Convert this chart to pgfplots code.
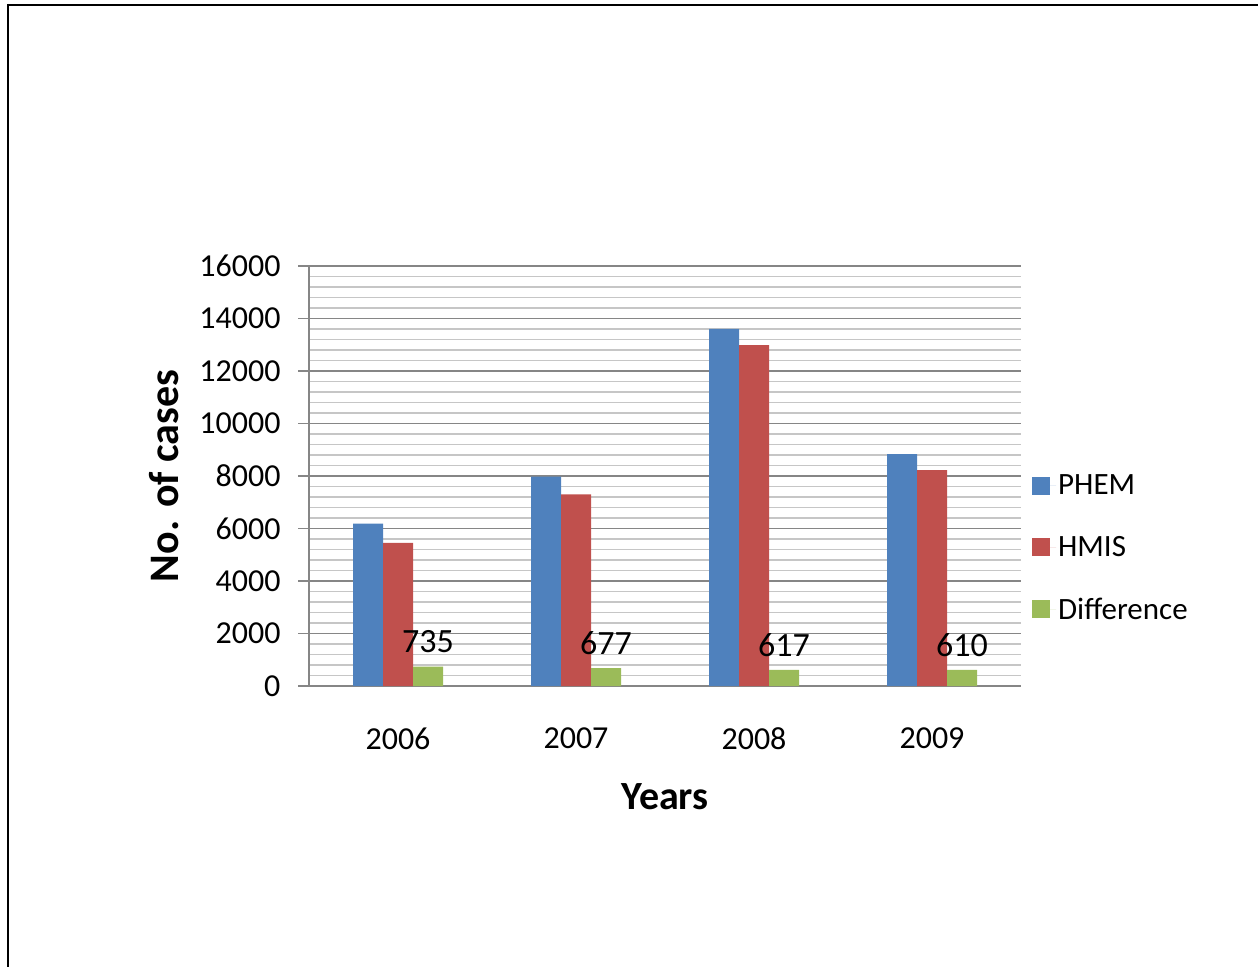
\documentclass[border=0pt]{standalone}
\usepackage{pgfplots}
\pgfplotsset{compat=1.18}
\usepackage{fontspec}
\setmainfont{Carlito}
\definecolor{cblue}{HTML}{4F81BD}
\definecolor{cred}{HTML}{C0504D}
\definecolor{cgreen}{HTML}{9BBB59}
\definecolor{majg}{HTML}{868686}
\definecolor{ming}{HTML}{C6C6C6}
\begin{document}
\begin{tikzpicture}[x=1pt,y=1pt]
\path[use as bounding box] (0,0) rectangle (1258,967);
\draw[line width=2.5pt] (7.5,962) -- (1258,962);
\draw[line width=2pt] (7.5,963) -- (7.5,0);
\begin{axis}[
  at={(309pt,281pt)}, anchor=south west,
  scale only axis, width=712pt, height=420pt,
  ybar=0pt, bar width=30pt,
  xmin=-0.5, xmax=3.5, ymin=0, ymax=16000,
  xtick={0,1,2,3}, xticklabels={2006,2007,2008,2009},
  ytick={0,2000,...,16000},
  minor y tick num=4,
  axis x line=bottom, axis y line=left,
  axis line style={majg, line width=2pt, -},
  x axis line style={-}, y axis line style={-},
  tick align=outside,
  major tick length=11pt, minor tick length=0pt,
  xtick style={draw=none},
  ytick style={majg, line width=1.5pt},
  ymajorgrids, yminorgrids,
  major grid style={majg, line width=1.5pt},
  minor grid style={ming, line width=1.5pt},
  /pgf/number format/assume math mode=true,
  scaled y ticks=false,
  yticklabel={\pgfmathprintnumber[fixed,1000 sep={}]{\tick}},
  ticklabel style={font=\fontsize{32}{38}\selectfont},
  yticklabel style={xshift=-14pt},
  xticklabel style={yshift=-27pt},
  xlabel={\textbf{Years}},
  ylabel={\textbf{No. of cases}},
  xlabel style={at={(axis description cs:0.5,0)}, anchor=center, yshift=-111pt, font=\fontsize{40}{46}\selectfont},
  ylabel style={at={(axis description cs:0,0.5)}, anchor=center, rotate=0, yshift=145pt, font=\fontsize{42}{48}\selectfont},
  legend style={at={(axis description cs:1.0154,0.3286)}, anchor=west, draw=none, fill=none,
    font=\fontsize{31}{37}\selectfont, row sep=36pt, inner sep=0pt},
  legend cell align=left,
  legend image code/.code={\fill[#1] (0pt,-9pt) rectangle (18pt,9pt); \path (0pt,0pt) -- (24pt,0pt);},
  clip=false,
]
\addplot[fill=cblue, draw=none] coordinates {(0,6185) (1,7977) (2,13607) (3,8830)};
\addplot[fill=cred, draw=none] coordinates {(0,5450) (1,7300) (2,12990) (3,8220)};
\addplot[fill=cgreen, draw=none, nodes near coords,
  point meta=explicit symbolic,
  nodes near coords style={font=\fontsize{34}{40}\selectfont, black, anchor=south, yshift=10pt}]
  coordinates {(0,735) [735] (1,677) [677] (2,617) [617] (3,610) [610]};
\legend{PHEM,HMIS,Difference}
\end{axis}
\end{tikzpicture}
\end{document}
